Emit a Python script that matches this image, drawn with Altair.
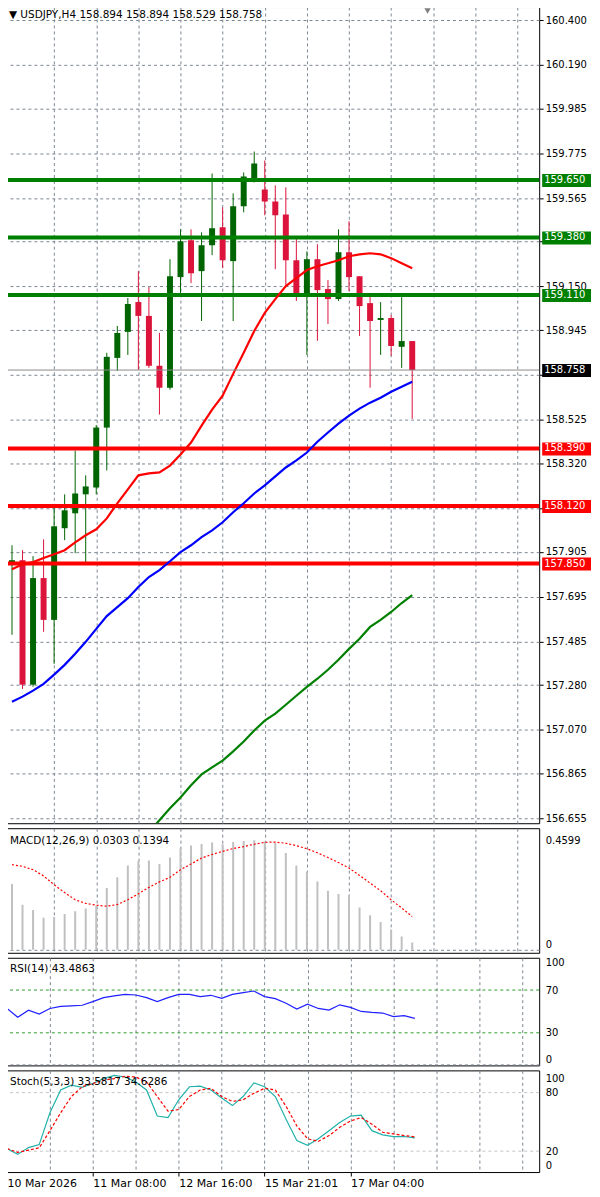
import altair as alt
import pandas as pd

# ---------------- data ----------------
bar_index = list(range(39))
open_ = [157.857, 157.866, 157.282, 157.782, 157.586, 158.016, 158.086, 158.175, 158.207, 158.488,
         158.815, 158.937, 159.077, 159.012, 158.778, 158.675, 159.194, 159.367, 159.222, 159.343,
         159.428, 159.269, 159.526, 159.657, 159.605, 159.549, 159.488, 159.273, 159.114, 159.278,
         159.138, 159.091, 159.311, 159.198, 159.072, 158.993, 159.002, 158.867, 158.894]
high = [157.936, 157.913, 157.885, 157.964, 158.119, 158.175, 158.380, 158.264, 158.500, 158.839,
        158.965, 159.096, 159.222, 159.147, 158.932, 159.278, 159.418, 159.418, 159.404, 159.680,
        159.521, 159.587, 159.685, 159.783, 159.741, 159.624, 159.615, 159.376, 159.315, 159.348,
        159.180, 159.418, 159.456, 159.198, 159.110, 159.077, 159.016, 159.100, 158.894]
low = [157.516, 157.262, 157.272, 157.530, 157.380, 157.960, 157.899, 157.843, 158.175, 158.287,
       158.754, 158.829, 158.759, 158.768, 158.549, 158.666, 159.114, 159.166, 158.988, 159.297,
       159.236, 158.988, 159.498, 159.638, 159.484, 159.231, 159.156, 159.082, 158.829, 158.895,
       158.974, 159.082, 159.128, 158.918, 158.675, 158.829, 158.825, 158.768, 158.529]
close = [157.866, 157.282, 157.782, 157.586, 158.025, 158.100, 158.179, 158.212, 158.488, 158.820,
         158.932, 159.068, 159.012, 158.778, 158.675, 159.198, 159.362, 159.212, 159.343, 159.423,
         159.273, 159.526, 159.666, 159.727, 159.549, 159.484, 159.273, 159.105, 159.278, 159.133,
         159.091, 159.311, 159.194, 159.058, 158.988, 159.002, 158.871, 158.894, 158.758]

ma_red = [157.824, 157.847, 157.857, 157.876, 157.894, 157.913, 157.950, 157.983, 158.011, 158.062,
          158.133, 158.198, 158.264, 158.273, 158.278, 158.310, 158.362, 158.418, 158.497, 158.572,
          158.638, 158.740, 158.839, 158.941, 159.026, 159.091, 159.152, 159.189, 159.227, 159.245,
          159.259, 159.273, 159.292, 159.301, 159.306, 159.301, 159.283, 159.259, 159.236]
ma_blue = [157.202, 157.226, 157.254, 157.286, 157.329, 157.375, 157.427, 157.483, 157.544, 157.604,
           157.646, 157.688, 157.740, 157.787, 157.819, 157.861, 157.904, 157.936, 157.974, 158.006,
           158.044, 158.091, 158.133, 158.179, 158.217, 158.259, 158.301, 158.334, 158.371, 158.422,
           158.465, 158.507, 158.544, 158.577, 158.605, 158.628, 158.656, 158.680, 158.703]
ma_green_bars = list(range(13, 39))
ma_green = [156.590, 156.646, 156.702, 156.753, 156.810, 156.861, 156.894, 156.926, 156.969, 157.015,
            157.067, 157.113, 157.146, 157.188, 157.230, 157.272, 157.310, 157.352, 157.399, 157.450,
            157.497, 157.553, 157.586, 157.623, 157.665, 157.702]

macd_hist = [0.276, 0.189, 0.167, 0.134, 0.138, 0.150, 0.162, 0.173, 0.185, 0.259,
             0.304, 0.354, 0.373, 0.375, 0.360, 0.387, 0.426, 0.438, 0.444, 0.450,
             0.443, 0.452, 0.457, 0.4599, 0.454, 0.450, 0.406, 0.354, 0.329, 0.287,
             0.248, 0.234, 0.231, 0.178, 0.145, 0.117, 0.085, 0.056, 0.0303]
macd_signal = [0.357, 0.350, 0.336, 0.310, 0.273, 0.240, 0.210, 0.195, 0.187, 0.183,
               0.190, 0.210, 0.235, 0.262, 0.285, 0.304, 0.336, 0.360, 0.385, 0.400,
               0.413, 0.425, 0.433, 0.443, 0.451, 0.452, 0.447, 0.437, 0.424, 0.407,
               0.387, 0.366, 0.343, 0.312, 0.280, 0.248, 0.210, 0.175, 0.1394]
rsi = [52.8, 44.5, 51.2, 47.6, 52.8, 54.7, 55.2, 55.8, 59.2, 62.9,
       64.5, 66.0, 65.4, 62.9, 59.2, 62.9, 66.0, 66.0, 63.9, 65.1,
       62.3, 66.0, 67.6, 69.1, 63.9, 62.0, 57.7, 52.2, 56.8, 52.8,
       51.2, 56.2, 53.8, 50.0, 49.1, 48.5, 45.1, 46.0, 43.49]
stoch_k = [22.7, 16.7, 23.7, 26.7, 59.4, 82.7, 87.7, 85.4, 89.4, 94.4,
           97.7, 96.0, 91.0, 82.7, 56.0, 54.4, 72.7, 86.0, 86.7, 82.7,
           74.4, 66.7, 76.0, 90.0, 86.0, 76.0, 52.7, 31.0, 26.0, 32.7,
           41.0, 49.4, 56.0, 57.0, 41.0, 36.7, 35.0, 35.0, 33.58]
stoch_d = [22.7, 18.7, 21.0, 23.4, 41.0, 59.4, 76.0, 86.0, 89.4, 92.7,
           94.4, 96.7, 96.0, 91.0, 76.0, 61.0, 62.7, 76.0, 82.7, 84.4,
           76.0, 71.0, 72.7, 79.4, 84.4, 82.7, 66.0, 46.0, 32.7, 30.0,
           36.0, 44.4, 51.0, 54.4, 47.7, 39.4, 37.7, 36.0, 34.63]

title_text = "▼ USDJPY,H4  158.894 158.894 158.529 158.758"
macd_title = "MACD(12,26,9) 0.0303 0.1394"
rsi_title = "RSI(14) 43.4863"
stoch_title = "Stoch(5,3,3) 33.5817 34.6286"

price_ticks = [160.400, 160.190, 159.985, 159.775, 159.565, 159.360, 159.150, 158.945, 158.735,
               158.525, 158.320, 158.110, 157.905, 157.695, 157.485, 157.280, 157.070, 156.865, 156.655]
hidden_price_labels = [159.360, 158.735, 158.110]   # covered by the price tags in the reference
level_prices = [159.650, 159.380, 159.110, 158.390, 158.120, 157.850]
level_colors = ["#008000", "#008000", "#008000", "#ff0000", "#ff0000", "#ff0000"]
last_price = 158.758
macd_ticks = [0, 0.4599]
rsi_ticks = [0, 30, 70, 100]
rsi_levels = [30, 70]
stoch_ticks = [0, 20, 80, 100]
stoch_levels = [20, 80]
time_tick_bars = [0, 8, 16, 24, 32]
time_tick_labels = ["10 Mar 2026", "11 Mar 08:00", "12 Mar 16:00", "15 Mar 21:01", "17 Mar 04:00"]
grid_bars = list(range(4, 49, 4))
all_grid_bars = list(range(0, 49, 4))

# ---------------- style / layout ----------------
FONT = "DejaVu Sans"
GRID = "#7b8794"
W = 534
BAR_PX = 10.77
H_MAIN, H_MACD, H_RSI, H_STOCH = 819, 125, 108, 102

x_scale = alt.Scale(domain=[0, W / BAR_PX], nice=False, zero=False)


def grid_x_axis():
    return alt.Axis(values=grid_bars, grid=True, gridColor=GRID, gridDash=[3, 3], labels=False,
                    ticks=False, domain=False, title=None, zindex=0)


def X():
    return alt.X("i:Q", scale=x_scale, axis=grid_x_axis())


def panel_label(text, y):
    return alt.Chart(pd.DataFrame({"t": [text]})).mark_text(
        align="left", baseline="middle", fontSize=10.5, color="black", font=FONT
    ).encode(x=alt.value(3), y=alt.value(y), text="t:N")


# ---------------- main price panel ----------------
cdf = pd.DataFrame(dict(i=bar_index, open=open_, high=high, low=low, close=close))
cdf["dir"] = ["up" if c >= o else "down" for o, c in zip(open_, close)]

price_scale = alt.Scale(domain=[156.632, 160.461], nice=False, zero=False)
hide_test = " || ".join(f"abs(datum.value - {v}) < 0.0005" for v in hidden_price_labels)
main_axis = alt.Axis(orient="right", values=price_ticks, grid=True, gridColor=GRID,
                     labelExpr=f"({hide_test}) ? '' : format(datum.value, '.3f')",
                     gridDash=[3, 3], tickSize=4, tickColor="black", domain=False, labelPadding=2,
                     labelFontSize=10, title=None, zindex=0)


def PY(field):
    return alt.Y(field, scale=price_scale, axis=main_axis)


candle_color = alt.Color("dir:N", scale=alt.Scale(domain=["up", "down"], range=["#006400", "#dc143c"]),
                         legend=None)

wicks = alt.Chart(cdf).mark_rule(strokeWidth=1, clip=True).encode(
    x=X(), y=PY("low:Q"), y2="high:Q", color=candle_color)
bodies = alt.Chart(cdf).mark_bar(size=6, clip=True).encode(
    x=X(), y=PY("open:Q"), y2="close:Q", color=candle_color)

ldf = pd.DataFrame({"price": level_prices, "color": level_colors})
levels = alt.Chart(ldf).mark_rule(strokeWidth=4).encode(
    y=PY("price:Q"), color=alt.Color("color:N", scale=None))

ma_df = pd.DataFrame({"i": bar_index, "red": ma_red, "blue": ma_blue})
red_line = alt.Chart(ma_df).mark_line(color="#ff0000", strokeWidth=2.2, clip=True).encode(
    x=X(), y=PY("red:Q"))
blue_line = alt.Chart(ma_df).mark_line(color="#0000ff", strokeWidth=2.2, clip=True).encode(
    x=X(), y=PY("blue:Q"))
gdf = pd.DataFrame({"i": ma_green_bars, "green": ma_green})
green_line = alt.Chart(gdf).mark_line(color="#008000", strokeWidth=2.2, clip=True).encode(
    x=X(), y=PY("green:Q"))

price_line = alt.Chart(pd.DataFrame({"price": [last_price]})).mark_rule(
    color="#8a8a8a", strokeWidth=1).encode(y=PY("price:Q"))

tag_df = pd.DataFrame({
    "price": level_prices + [last_price],
    "color": level_colors + ["#000000"],
    "label": [f"{p:.3f}" for p in level_prices + [last_price]],
})
tags_rect = alt.Chart(tag_df).mark_rect(yOffset=-6, y2Offset=7).encode(
    x=alt.value(W + 3), x2=alt.value(W + 52), y=PY("price:Q"), y2="price:Q",
    color=alt.Color("color:N", scale=None))
tags_text = alt.Chart(tag_df).mark_text(align="left", baseline="middle", color="white",
                                        fontSize=10, font=FONT).encode(
    x=alt.value(W + 5), y=PY("price:Q"), text="label:N")

title_mark = alt.Chart(pd.DataFrame({"t": [title_text]})).mark_text(
    align="left", baseline="middle", fontSize=10.5, color="black", font=FONT
).encode(x=alt.value(2), y=alt.value(8), text="t:N")
shift_marker = alt.Chart(pd.DataFrame({"t": [title_text]})).mark_point(
    shape="triangle-down", filled=True, size=40, color="#7f7f7f", opacity=1
).encode(x=alt.value(422), y=alt.value(4))

main = alt.layer(wicks, bodies, levels, red_line, blue_line, green_line, price_line,
                 tags_rect, tags_text, title_mark, shift_marker).properties(width=W, height=H_MAIN)

# ---------------- MACD panel ----------------
mdf = pd.DataFrame({"i": bar_index, "hist": macd_hist, "signal": macd_signal})
macd_scale = alt.Scale(domain=[-0.0125, 0.5101], nice=False, zero=False)
macd_axis = alt.Axis(orient="right", values=macd_ticks,
                     labelExpr="datum.value == 0 ? '0' : format(datum.value, '.4f')",
                     ticks=False, labelPadding=6, domain=False, title=None, grid=True,
                     gridColor=GRID, gridDash=[3, 3], zindex=0,
                     gridOpacity={"condition": {"test": "datum.value == 0", "value": 1}, "value": 0},
                     labelBaseline={"condition": {"test": "datum.value == 0", "value": "bottom"},
                                    "value": "middle"})
hist = alt.Chart(mdf).mark_bar(size=2, color="#c0c0c0", clip=True).encode(
    x=X(), y=alt.Y("hist:Q", scale=macd_scale, axis=macd_axis), y2=alt.datum(0))
sig = alt.Chart(mdf).mark_line(color="#ff0000", strokeDash=[2, 2], strokeWidth=1.2, clip=True).encode(
    x=X(), y=alt.Y("signal:Q", scale=macd_scale, axis=macd_axis))
macd = alt.layer(hist, sig, panel_label(macd_title, 13)).properties(width=W, height=H_MACD)

# ---------------- RSI panel ----------------
rdf = pd.DataFrame({"i": bar_index, "rsi": rsi})
rsi_scale = alt.Scale(domain=[-0.47, 100.19], nice=False, zero=False)
three_baseline = {"condition": [{"test": "datum.value == 100", "value": "top"},
                                {"test": "datum.value == 0", "value": "bottom"}],
                  "value": "middle"}
rsi_axis = alt.Axis(orient="right", values=rsi_ticks, ticks=False, labelPadding=6, domain=False,
                    title=None, grid=True, gridColor=GRID, gridDash=[3, 3], zindex=0,
                    gridOpacity={"condition": {"test": "datum.value == 0", "value": 1}, "value": 0},
                    labelBaseline=three_baseline)
rsi_lv = alt.Chart(pd.DataFrame({"lv": rsi_levels})).mark_rule(
    color="#2f9e2f", strokeDash=[3, 3], strokeWidth=1).encode(
    y=alt.Y("lv:Q", scale=rsi_scale, axis=rsi_axis))
rsi_line = alt.Chart(rdf).mark_line(color="#1f1fff", strokeWidth=1.2, clip=True).encode(
    x=X(), y=alt.Y("rsi:Q", scale=rsi_scale, axis=rsi_axis))
rsi_panel = alt.layer(rsi_lv, rsi_line, panel_label(rsi_title, 11)).properties(width=W, height=H_RSI)

# ---------------- Stochastic panel ----------------
sdf = pd.DataFrame({"i": bar_index, "k": stoch_k, "d": stoch_d})
stoch_scale = alt.Scale(domain=[-1.4, 102.8], nice=False, zero=False)
stoch_axis = alt.Axis(orient="right", values=stoch_ticks, ticks=False, labelPadding=6, domain=False,
                      title=None, grid=False, zindex=0, labelBaseline=three_baseline)
tick_test = " || ".join(f"datum.value == {b}" for b in time_tick_bars)
label_expr = "".join(f"datum.value == {b} ? '{l}' : " for b, l in zip(time_tick_bars, time_tick_labels)) + "''"
bottom_axis = alt.Axis(values=all_grid_bars, grid=True, gridColor=GRID, gridDash=[3, 3],
                       gridOpacity={"condition": {"test": "datum.value == 0", "value": 0}, "value": 1},
                       tickOpacity={"condition": {"test": tick_test, "value": 1}, "value": 0},
                       tickSize=4, tickColor="black", labelExpr=label_expr, labelAlign="left",
                       labelPadding=2, labelFontSize=11, labelOverlap=False, labelFlush=False,
                       domain=False, title=None, zindex=0)
XB = alt.X("i:Q", scale=x_scale, axis=bottom_axis)
st_lv = alt.Chart(pd.DataFrame({"lv": stoch_levels})).mark_rule(
    color="#c4c4c4", strokeDash=[3, 3], strokeWidth=1).encode(
    y=alt.Y("lv:Q", scale=stoch_scale, axis=stoch_axis))
k_line = alt.Chart(sdf).mark_line(color="#20b2aa", strokeWidth=1.2, clip=True).encode(
    x=XB, y=alt.Y("k:Q", scale=stoch_scale, axis=stoch_axis))
d_line = alt.Chart(sdf).mark_line(color="#ff0000", strokeDash=[3, 2], strokeWidth=1.2, clip=True).encode(
    x=XB, y=alt.Y("d:Q", scale=stoch_scale, axis=stoch_axis))
stoch_panel = alt.layer(st_lv, k_line, d_line, panel_label(stoch_title, 12)).properties(
    width=W, height=H_STOCH)

chart = alt.vconcat(main, macd, rsi_panel, stoch_panel, spacing=3).properties(
    padding={"left": -4, "top": -4, "right": 0, "bottom": 0}, background="white"
).configure_view(stroke="black", strokeWidth=1).configure_axis(
    labelFont=FONT, labelColor="black", labelFontSize=10
).configure_text(font=FONT)

chart.save("out.html", embed_options={"renderer": "svg", "actions": False})
